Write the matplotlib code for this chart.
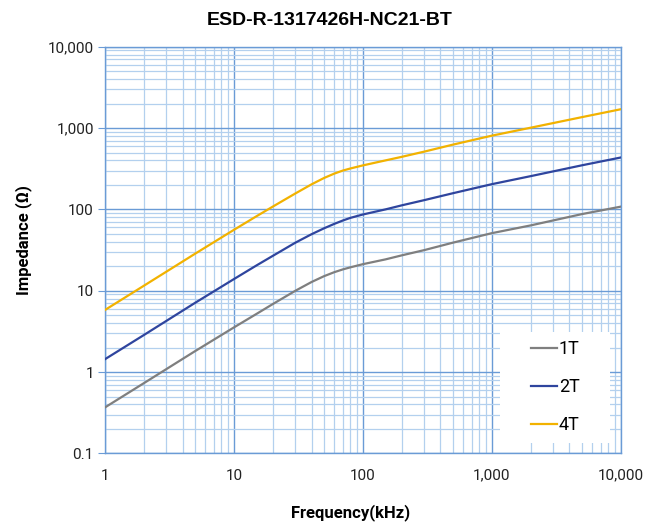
import matplotlib
matplotlib.use("Agg")
import matplotlib.pyplot as plt
from matplotlib.patches import Rectangle
from matplotlib.ticker import FixedLocator, FixedFormatter, NullFormatter, LogLocator

# frequency in kHz, impedance in ohm
freq = [1, 2, 5, 10, 15, 20, 30, 40, 50, 60, 70, 80, 100, 150, 200, 300, 500,
        1000, 2000, 5000, 10000]
z_1t = [0.368, 0.73, 1.81, 3.54, 5.2, 6.85, 10.0, 12.8, 15.1, 16.9, 18.3, 19.4,
        21.2, 24.3, 27.2, 31.6, 39.0, 51.0, 63.5, 87.5, 108.0]
z_2t = [1.44, 2.85, 7.1, 13.9, 20.5, 26.8, 39.0, 49.5, 58.5, 66.3, 73.0, 78.6,
        86.5, 100.0, 112.0, 130.0, 158.0, 204.0, 256.0, 348.0, 434.0]
z_4t = [5.8, 11.5, 28.5, 56.0, 82.5, 108.0, 157.0, 203.0, 243.0, 275.0, 300.0,
        318.0, 347.0, 400.0, 442.0, 513.0, 625.0, 805.0, 1008.0, 1360.0, 1700.0]

series = [("1T", z_1t, "#7f7f7f"), ("2T", z_2t, "#2f459e"), ("4T", z_4t, "#f2b200")]

x_ticks = [1, 10, 100, 1000, 10000]
x_labels = ["1", "10", "100", "1,000", "10,000"]
y_ticks = [0.1, 1, 10, 100, 1000, 10000]
y_labels = ["0.1", "1", "10", "100", "1,000", "10,000"]

MAJOR = "#6a9bd6"
MINOR = "#b3d0ee"

fig = plt.figure(figsize=(6.6, 5.27), dpi=100)
ax = fig.add_axes([0.159, 0.1395, 0.7815, 0.772])
ax.set_axisbelow(True)

for name, z, col in series:
    ax.plot(freq, z, color=col, lw=1.6, label=name, zorder=3,
            solid_joinstyle="round")

ax.set_xscale("log")
ax.set_yscale("log")
ax.set_xlim(1, 10000)
ax.set_ylim(0.1, 10000)

ax.xaxis.set_major_locator(FixedLocator(x_ticks))
ax.xaxis.set_major_formatter(FixedFormatter(x_labels))
ax.yaxis.set_major_locator(FixedLocator(y_ticks))
ax.yaxis.set_major_formatter(FixedFormatter(y_labels))
for axis in (ax.xaxis, ax.yaxis):
    axis.set_minor_locator(LogLocator(base=10, subs=range(2, 10), numticks=20))
    axis.set_minor_formatter(NullFormatter())

ax.grid(True, which="minor", color=MINOR, lw=0.9)
ax.grid(True, which="major", color=MAJOR, lw=1.0)
for side in ax.spines.values():
    side.set_color(MAJOR)
    side.set_linewidth(1.0)

ax.tick_params(axis="x", which="both", length=0, pad=11, labelsize=11)
ax.tick_params(axis="y", which="major", length=5, color=MAJOR, pad=3, labelsize=11)
ax.tick_params(axis="y", which="minor", length=0)
for lab in ax.get_xticklabels() + ax.get_yticklabels():
    lab.set_fontfamily("Roboto")
    lab.set_color("#222222")

ax.set_xlabel("Frequency(kHz)", fontfamily="Roboto", fontweight="bold", fontsize=12)
ax.set_ylabel("Impedance (Ω)", fontfamily="Roboto", fontweight="bold", fontsize=12)
ax.xaxis.set_label_coords(0.477, -0.125)
ax.yaxis.set_label_coords(-0.142, 0.525)

fig.text(0.5, 0.962, "ESD-R-1317426H-NC21-BT", ha="center", va="center",
         fontfamily="Liberation Sans", fontweight="bold", fontsize=14)

# white box behind the legend, hiding the grid
ax.add_patch(Rectangle((0.766, 0.026), 0.214, 0.273, transform=ax.transAxes,
                       facecolor="white", edgecolor="none", zorder=2))
leg = ax.legend(loc="center", bbox_to_anchor=(0.873, 0.163), frameon=False,
                prop={"family": "Roboto", "size": 13}, handlelength=1.45,
                handletextpad=0.1, labelspacing=1.1)
leg.set_zorder(4)

fig.savefig("out.png", dpi=100)
